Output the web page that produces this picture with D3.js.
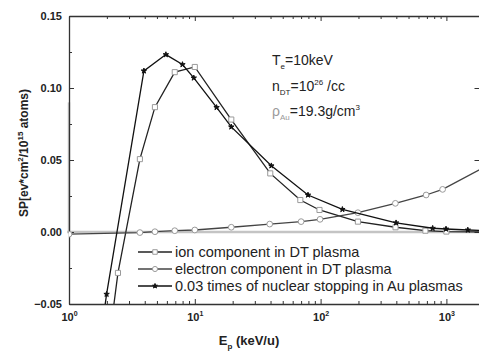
<!DOCTYPE html>
<html>
<head>
<meta charset="utf-8">
<script src="https://cdn.jsdelivr.net/npm/d3@7"></script>
<style>
  body { margin: 0; background: #fff; }
  svg { display: block; font-family: Arial, "Liberation Sans", sans-serif; }
  .axis text { font-weight: bold; font-size: 11px; fill: #222; }
  .axis path, .axis line { stroke: #333; }
</style>
</head>
<body>
<svg id="chart" width="479" height="352"></svg>
<script>
// values
const ionE  = [2, 2.45, 3.66, 4.82, 6.93, 10, 19.5, 39.8, 69, 98, 198, 394, 681, 1000, 2000];
const ionSP = [-0.088, -0.0284, 0.0506, 0.0867, 0.111, 0.1146, 0.0781, 0.0407, 0.0222, 0.0153, 0.0072, 0.0033, 0.0009, 0.0003, 0.0];

const elE  = [1, 3.66, 4.82, 6.93, 10, 19.5, 39.4, 70, 99, 198, 393, 690, 933, 2000];
const elSP = [-0.0015, -0.0004, 0.0002, 0.0009, 0.0014, 0.0033, 0.0055, 0.0072, 0.0088, 0.0134, 0.0199, 0.0257, 0.0296, 0.045];

const nucE  = [1.5, 1.99, 3.94, 5.89, 7.98, 9.82, 14.9, 19.5, 40.6, 79.4, 149, 398, 778, 993, 1480, 2000];
const nucSP = [-0.12, -0.0432, 0.1119, 0.1232, 0.1163, 0.107, 0.0865, 0.073, 0.046, 0.0257, 0.0157, 0.0064, 0.0026, 0.0021, 0.0014, 0.001];

const xMajor = [1, 10, 100, 1000];
const yMajor = [-0.05, 0, 0.05, 0.10, 0.15];
const yMinor = [-0.025, 0.025, 0.075, 0.125];
const refLeft = [0, 0.09];

const legendLabels = [
  'ion component in DT plasma',
  'electron component in DT plasma',
  '0.03 times of nuclear stopping in Au plasmas'
];

const svg = d3.select('#chart');
const pl = 69, pr = 480, pt = 16, pb = 304;

const x = d3.scaleLog().domain([1, 1850]).range([pl, pr]);
const y = d3.scaleLinear().domain([-0.05, 0.15]).range([pb, pt]);

const xMinor = [];
for (let d = 1; d < 10000; d *= 10) {
  for (let k = 2; k < 10; k++) if (d * k <= 1850) xMinor.push(d * k);
}

svg.append('clipPath').attr('id', 'clip')
  .append('rect')
  .attr('x', pl).attr('y', pt)
  .attr('width', pr - pl).attr('height', pb - pt);

// grey reference lines
svg.append('line')
  .attr('x1', pl - 2).attr('x2', pr)
  .attr('y1', y(0)).attr('y2', y(0))
  .attr('stroke', '#c4c4c4').attr('stroke-width', 2.5);
svg.append('line')
  .attr('x1', pl).attr('x2', pl)
  .attr('y1', y(refLeft[0])).attr('y2', y(refLeft[1]))
  .attr('stroke', '#c4c4c4').attr('stroke-width', 2.5);

// axes
function sup(sel) {
  sel.selectAll('.tick text').each(function(d) {
    const t = d3.select(this).text('');
    t.append('tspan').text('10');
    t.append('tspan').attr('dy', -5).attr('font-size', 7).text(Math.round(Math.log10(d)));
  });
}

svg.append('g').attr('class', 'axis')
  .attr('transform', `translate(0,${pb})`)
  .call(d3.axisBottom(x).tickValues(xMajor).tickSize(-5).tickPadding(9).tickSizeOuter(0))
  .call(sup);
svg.append('g').attr('class', 'axis')
  .attr('transform', `translate(0,${pb})`)
  .call(d3.axisBottom(x).tickValues(xMinor).tickSize(-3).tickFormat('').tickSizeOuter(0))
  .call(g => g.select('.domain').remove());

svg.append('g').attr('class', 'axis')
  .attr('transform', `translate(0,${pt})`)
  .call(d3.axisTop(x).tickValues(xMajor).tickSize(-5).tickFormat('').tickSizeOuter(0));
svg.append('g').attr('class', 'axis')
  .attr('transform', `translate(0,${pt})`)
  .call(d3.axisTop(x).tickValues(xMinor).tickSize(-3).tickFormat('').tickSizeOuter(0))
  .call(g => g.select('.domain').remove());

svg.append('g').attr('class', 'axis')
  .attr('transform', `translate(${pl},0)`)
  .call(d3.axisLeft(y).tickValues(yMajor).tickSize(-5).tickPadding(7).tickSizeOuter(0)
    .tickFormat(d3.format('.2f')));
svg.append('g').attr('class', 'axis')
  .attr('transform', `translate(${pl},0)`)
  .call(d3.axisLeft(y).tickValues(yMinor).tickSize(-3).tickFormat('').tickSizeOuter(0))
  .call(g => g.select('.domain').remove());

svg.append('g').attr('class', 'axis')
  .attr('transform', `translate(${pr - 0.5},0)`)
  .call(d3.axisRight(y).tickValues(yMajor).tickSize(-5).tickFormat('').tickSizeOuter(0));

svg.selectAll('.axis .domain').attr('stroke-width', 1.3);

// series
const series = [
  { e: ionE, v: ionSP, line: '#222', mark: '#9a9a9a', sym: d3.symbolSquare, size: 26, fill: '#fff' },
  { e: elE,  v: elSP,  line: '#444', mark: '#9a9a9a', sym: d3.symbolCircle, size: 26, fill: '#fff' },
  { e: nucE, v: nucSP, line: '#111', mark: '#111',    sym: d3.symbolStar,   size: 9,  fill: '#111' }
];

const plot = svg.append('g').attr('clip-path', 'url(#clip)');
const line = d3.line().x(d => x(d[0])).y(d => y(d[1]));

series.forEach(s => {
  const pts = s.e.map((e, i) => [e, s.v[i]]);
  plot.append('path')
    .datum(pts)
    .attr('d', line)
    .attr('fill', 'none')
    .attr('stroke', s.line)
    .attr('stroke-width', 1.3);
  plot.selectAll(null)
    .data(pts)
    .join('path')
    .attr('transform', d => `translate(${x(d[0])},${y(d[1])})`)
    .attr('d', d3.symbol(s.sym, s.size))
    .attr('fill', s.fill)
    .attr('stroke', s.mark)
    .attr('stroke-width', 1);
});

// legend
const lg = svg.append('g').attr('transform', 'translate(138,252)');
legendLabels.forEach((label, i) => {
  const s = series[i];
  const row = lg.append('g').attr('transform', `translate(0,${i * 17})`);
  row.append('line').attr('x1', 0).attr('x2', 34).attr('y1', 0).attr('y2', 0)
    .attr('stroke', s.line).attr('stroke-width', 1.3);
  row.append('path')
    .attr('transform', 'translate(17,0)')
    .attr('d', d3.symbol(s.sym, s.size * 0.8))
    .attr('fill', s.fill).attr('stroke', s.mark).attr('stroke-width', 1);
  row.append('text').attr('x', 37).attr('y', 5)
    .attr('font-size', 14.5).attr('fill', '#222')
    .text(label);
});

// annotation
const ann = svg.append('g').attr('font-size', 14).attr('fill', '#222');
const t1 = ann.append('text').attr('x', 272).attr('y', 65);
t1.append('tspan').text('T');
t1.append('tspan').attr('dy', 4).attr('font-size', 8).text('e');
t1.append('tspan').attr('dy', -4).text('=10keV');

const t2 = ann.append('text').attr('x', 272).attr('y', 91);
t2.append('tspan').text('n');
t2.append('tspan').attr('dy', 4).attr('font-size', 8).text('DT');
t2.append('tspan').attr('dy', -4).text('=10');
t2.append('tspan').attr('dy', -6).attr('font-size', 8).text('26');
t2.append('tspan').attr('dy', 6).text(' /cc');

const t3 = ann.append('text').attr('x', 272).attr('y', 116);
t3.append('tspan').attr('fill', '#999').text('ρ');
t3.append('tspan').attr('dy', 4).attr('font-size', 8).attr('fill', '#999').text('Au');
t3.append('tspan').attr('dy', -4).text('=19.3g/cm');
t3.append('tspan').attr('dy', -6).attr('font-size', 8).text('3');

// axis titles
const xt = svg.append('text')
  .attr('x', 249).attr('y', 345)
  .attr('text-anchor', 'middle')
  .attr('font-size', 13).attr('font-weight', 'bold').attr('fill', '#222');
xt.append('tspan').text('E');
xt.append('tspan').attr('dy', 4).attr('font-size', 8).text('p');
xt.append('tspan').attr('dy', -4).text(' (keV/u)');

const yt = svg.append('text')
  .attr('transform', 'translate(28,153) rotate(-90)')
  .attr('text-anchor', 'middle')
  .attr('font-size', 12).attr('font-weight', 'bold').attr('fill', '#222');
yt.append('tspan').text('SP[ev*cm');
yt.append('tspan').attr('dy', -5).attr('font-size', 8).text('2');
yt.append('tspan').attr('dy', 5).text('/10');
yt.append('tspan').attr('dy', -5).attr('font-size', 8).text('15');
yt.append('tspan').attr('dy', 5).text(' atoms)');
</script>
</body>
</html>
